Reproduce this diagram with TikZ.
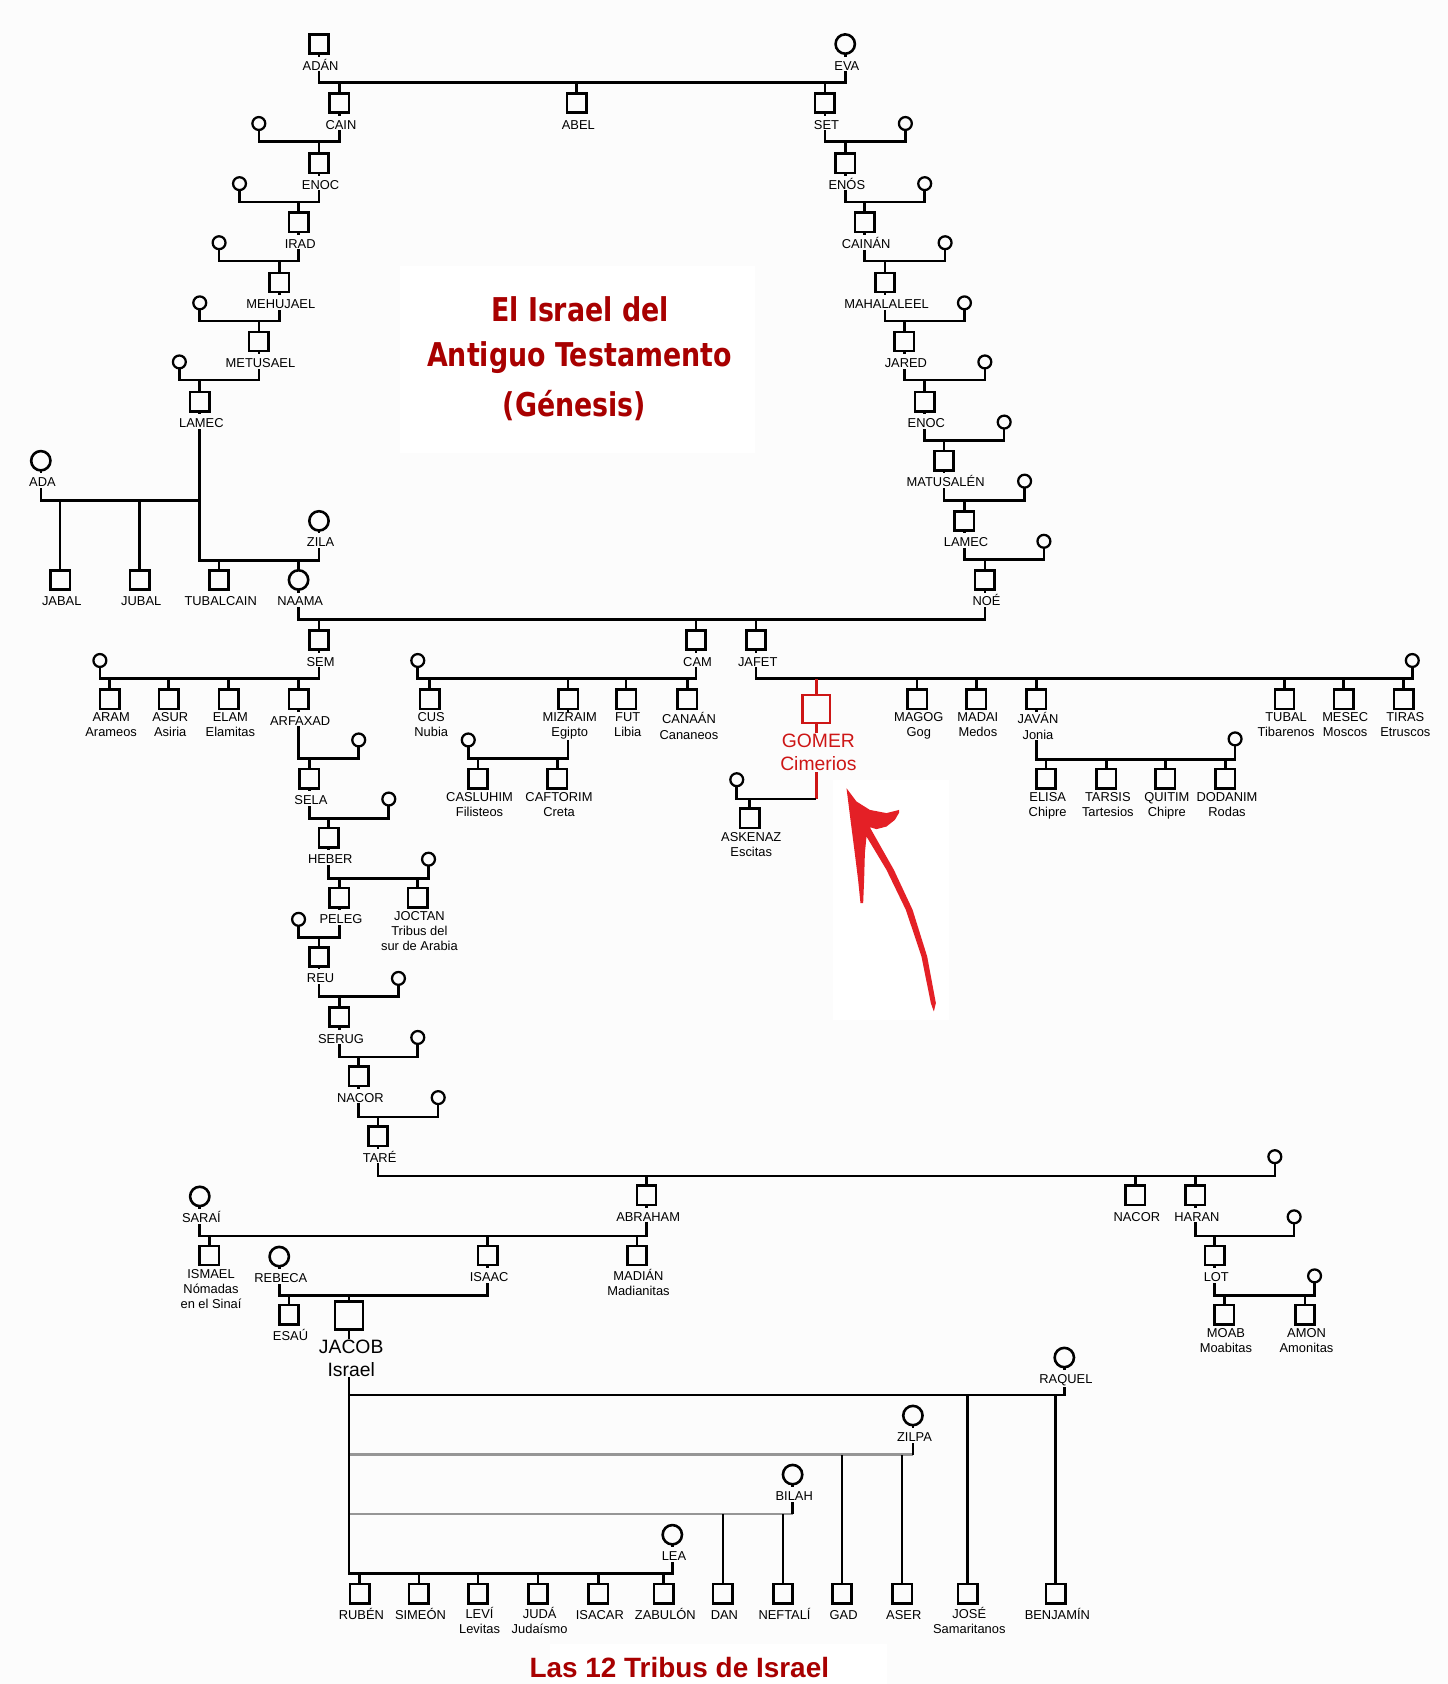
\documentclass[tikz,border=0pt]{standalone}
\usepackage{fontspec}
\setmainfont{Liberation Sans}
\newfontfamily\titlefont{DejaVu Sans Bold}[FakeStretch=0.82]
\usetikzlibrary{calc}
\pgfdeclarelayer{back}
\pgfdeclarelayer{bg}
\pgfsetlayers{back,bg,main}
\definecolor{bgc}{RGB}{252,252,252}
\definecolor{titred}{RGB}{168,0,0}
\definecolor{gomred}{RGB}{205,22,22}
\definecolor{arrred}{RGB}{228,32,38}
\definecolor{barg}{RGB}{150,150,150}
\newcommand\Sq[4]{\node[sq] (#1) at (#2,#3) {};\node[lbl] (#1L) at (#2+1.5,#3+24) {#4};}
\newcommand\Fc[4]{\node[fc] (#1) at (#2,#3) {};\node[lbl] (#1L) at (#2+1.5,#3+24) {#4};}
\newcommand\Wc[3]{\node[wc] (#1) at (#2,#3) {};}
\newcommand\Mar[3]{\draw (#1.center) -- (#1.center |- 0,#3) -| (#2.center);}
\newcommand\Kid[2]{\draw (#1.center) -- (#1.center |- 0,#2);}
\begin{document}
\begin{tikzpicture}[x=1pt,y=-1pt,
  sq/.style={draw, line width=2.4pt, fill=bgc, rectangle, minimum size=18pt, inner sep=0pt},
  fc/.style={draw, line width=2.4pt, fill=bgc, circle, minimum size=18pt, inner sep=0pt},
  wc/.style={draw, line width=2.1pt, fill=bgc, circle, minimum size=12pt, inner sep=0pt},
  lbl/.style={anchor=north, yshift=12.5pt, font=\fontsize{12}{14}\selectfont, align=center, inner sep=1pt, fill=bgc, execute at begin node={\rule{0pt}{11.5pt}}},
  biglbl/.style={anchor=north, yshift=14.5pt, font=\fontsize{18}{21}\selectfont, align=center, inner sep=1pt, fill=bgc, execute at begin node={\rule{0pt}{13.5pt}}},
  ttl/.style={anchor=base, text=titred, inner sep=0pt, font=\titlefont\fontsize{30.5}{36}\selectfont}
]
\useasboundingbox (0,0) rectangle (1348,1568);
\begin{pgfonlayer}{back}
  \fill[bgc] (0,0) rectangle (1348,1568);
  \fill[white] (372,248) rectangle (703,422);
  \fill[white] (776,726) rectangle (884,950);
  \fill[white] (512,1531) rectangle (826,1568);
\end{pgfonlayer}

% title
\node[ttl] (t1) at (540,299.4) {El Israel del};
\node[ttl] (t2) at (539.5,341.3) {Antiguo Testamento};
\node[ttl] (t3) at (535,387.9) {(Génesis)};
\node[anchor=base, text=titred, inner sep=0pt, font=\bfseries\fontsize{26}{28}\selectfont] (tribus) at (632.5,1562) {Las 12 Tribus de Israel};

% top
\Sq{adan}{297}{41}{ADÁN}
\Fc{eva}{787}{41}{EVA}
\Sq{cain}{316}{96}{CAIN}
\Sq{abel}{537}{96}{ABEL}
\Sq{set}{768}{96}{SET}
% Cain line
\Wc{wcain}{241}{115}
\Sq{enocA}{297}{152}{ENOC}
\Wc{wenocA}{223}{171}
\Sq{irad}{278}{207}{IRAD}
\Wc{wirad}{204}{226}
\Sq{mehujael}{260}{263}{MEHUJAEL}
\Wc{wmehujael}{186}{282}
\Sq{metusael}{241}{318}{METUSAEL}
\Wc{wmetusael}{167}{337}
\Sq{lamecA}{186}{374}{LAMEC}
\Fc{ada}{38}{429}{ADA}
\Fc{zila}{297}{485}{ZILA}
\Sq{jabal}{56}{540}{JABAL}
\Sq{jubal}{130}{540}{JUBAL}
\Sq{tubalcain}{204}{540}{TUBALCAIN}
\Fc{naama}{278}{540}{NAAMA}
% Set line
\Wc{wset}{843}{115}
\Sq{enos}{787}{152}{ENÓS}
\Wc{wenos}{861}{171}
\Sq{cainan}{805}{207}{CAINÁN}
\Wc{wcainan}{880}{226}
\Sq{mahalaleel}{824}{263}{MAHALALEEL}
\Wc{wmahalaleel}{898}{282}
\Sq{jared}{842}{318}{JARED}
\Wc{wjared}{917}{337}
\Sq{enocB}{861}{374}{ENOC}
\Wc{wenocB}{935}{393}
\Sq{matusalen}{879}{429}{MATUSALÉN}
\Wc{wmatusalen}{954}{448}
\Sq{lamecB}{898}{485}{LAMEC}
\Wc{wlamecB}{972}{504}
\Sq{noe}{917}{540}{NOÉ}
% sons of Noe
\Sq{sem}{297}{596}{SEM}
\Sq{cam}{648}{596}{CAM}
\Sq{jafet}{704}{596}{JAFET}
\Wc{wsem}{93}{615}
\Sq{aram}{102}{651}{ARAM\\Arameos}
\Sq{asur}{157}{651}{ASUR\\Asiria}
\Sq{elam}{213}{651}{ELAM\\Elamitas}
\Sq{arfaxad}{278}{651}{ARFAXAD}
\Wc{wcam}{389}{615}
\Sq{cus}{400}{651}{CUS\\Nubia}
\Sq{mizraim}{529}{651}{MIZRAIM\\Egipto}
\Sq{fut}{583}{651}{FUT\\Libia}
\Sq{canaan}{640}{651}{CANAÁN\\Cananeos}
\Wc{wmizraim}{436}{689}
\Sq{casluhim}{445}{725}{CASLUHIM\\Filisteos}
\Sq{caftorim}{519}{725}{CAFTORIM\\Creta}
\Wc{wjafet}{1315}{615}
\node[sq, draw=gomred, minimum size=26pt] (gomer) at (760,660) {};
\node[biglbl, text=gomred] (gomerL) at (762,697) {GOMER\\Cimerios};
\Sq{magog}{854}{651}{MAGOG\\Gog}
\Sq{madai}{909}{651}{MADAI\\Medos}
\Sq{javan}{965}{651}{JAVÁN\\Jonia}
\Sq{tubal}{1196}{651}{TUBAL\\Tibarenos}
\Sq{mesec}{1251}{651}{MESEC\\Moscos}
\Sq{tiras}{1307}{651}{TIRAS\\Etruscos}
\Wc{wgomer}{686}{726}
\Sq{askenaz}{698}{762}{ASKENAZ\\Escitas}
\Wc{wjavan}{1150}{688}
\Sq{elisa}{974}{725}{ELISA\\Chipre}
\Sq{tarsis}{1030}{725}{TARSIS\\Tartesios}
\Sq{quitim}{1085}{725}{QUITIM\\Chipre}
\Sq{dodanim}{1141}{725}{DODANIM\\Rodas}
% Arfaxad line
\Wc{warfaxad}{334}{689}
\Sq{sela}{288}{725}{SELA}
\Wc{wsela}{362}{744}
\Sq{heber}{306}{780}{HEBER}
\Wc{wheber}{399}{800}
\Sq{peleg}{316}{836}{PELEG}
\Sq{joctan}{389}{836}{JOCTAN\\Tribus del\\sur de Arabia}
\Wc{wpeleg}{278}{856}
\Sq{reu}{297}{891}{REU}
\Wc{wreu}{371}{911}
\Sq{serug}{316}{947}{SERUG}
\Wc{wserug}{389}{966}
\Sq{nacorA}{334}{1002}{NACOR}
\Wc{wnacorA}{408}{1022}
\Sq{tare}{352}{1058}{TARÉ}
\Wc{wtare}{1187}{1077}
\Sq{abraham}{602}{1113}{ABRAHAM}
\Sq{nacorB}{1057}{1113}{NACOR}
\Sq{haran}{1113}{1113}{HARAN}
\Wc{wharan}{1205}{1133}
\Sq{lot}{1131}{1169}{LOT}
\Wc{wlot}{1224}{1188}
\Sq{moab}{1140}{1224}{MOAB\\Moabitas}
\Sq{amon}{1215}{1224}{AMON\\Amonitas}
\Fc{sarai}{186}{1114}{SARAÍ}
\Sq{ismael}{195}{1169}{ISMAEL\\Nómadas\\en el Sinaí}
\Sq{isaac}{454}{1169}{ISAAC}
\Sq{madian}{593}{1169}{MADIÁN\\Madianitas}
\Fc{rebeca}{260}{1170}{REBECA}
\Sq{esau}{269}{1224}{ESAÚ}
\node[sq, minimum size=26pt] (jacob) at (325,1225) {};
\node[biglbl] (jacobL) at (327,1261) {JACOB\\Israel};
\Fc{raquel}{991}{1264}{RAQUEL}
\Fc{zilpa}{850}{1318}{ZILPA}
\Fc{bilah}{738}{1373}{BILAH}
\Fc{lea}{626}{1429}{LEA}
\Sq{ruben}{335}{1484}{RUBÉN}
\Sq{simeon}{390}{1484}{SIMEÓN}
\Sq{levi}{445}{1484}{LEVÍ\\Levitas}
\Sq{juda}{501}{1484}{JUDÁ\\Judaísmo}
\Sq{isacar}{557}{1484}{ISACAR}
\Sq{zabulon}{618}{1484}{ZABULÓN}
\Sq{dan}{673}{1484}{DAN}
\Sq{neftali}{729}{1484}{NEFTALÍ}
\Sq{gad}{784}{1484}{GAD}
\Sq{aser}{840}{1484}{ASER}
\Sq{jose}{901}{1484}{JOSÉ\\Samaritanos}
\Sq{benjamin}{983}{1484}{BENJAMÍN}

% red arrow
\fill[arrred, line join=round] (788.2,733.9) -- (797.5,746.3) -- (809.9,754.1) -- (825.4,757.1) -- (837.2,754.1)
  -- (837.2,756.6) -- (833.2,763.4) -- (825.4,769.6) -- (816.1,772) -- (809.9,770.2) -- (813,775.8)
  -- (832.3,809.9) -- (849.7,847.1) -- (863.3,890.6) -- (871.4,934) -- (869.5,941.8)
  -- (866.7,934) -- (858,890.6) -- (843.4,847.1) -- (825.4,809.9) -- (806.8,778.9)
  -- (805.3,794.4) -- (804.6,819.2) -- (803.7,840.9) -- (801.2,840.9) -- (799,819.2) -- (795.9,794.4) -- (791.9,763.4) -- cycle;

\begin{pgfonlayer}{bg}
\begin{scope}[line width=2.4pt]
\Mar{adan}{eva}{77}\Kid{cain}{77}\Kid{abel}{77}\Kid{set}{77}
\Mar{cain}{wcain}{132}\Kid{enocA}{132}
\Mar{enocA}{wenocA}{188}\Kid{irad}{188}
\Mar{irad}{wirad}{243}\Kid{mehujael}{243}
\Mar{mehujael}{wmehujael}{299}\Kid{metusael}{299}
\Mar{metusael}{wmetusael}{354}\Kid{lamecA}{354}
\draw (lamecA.center) -- (lamecA.center |- 0,522) -| (zila.center);
\draw (ada.center) -- (ada.center |- 0,466) -- (lamecA.center |- 0,466);
\Kid{jabal}{466}\Kid{jubal}{466}\Kid{tubalcain}{522}\Kid{naama}{522}
\Mar{set}{wset}{132}\Kid{enos}{132}
\Mar{enos}{wenos}{188}\Kid{cainan}{188}
\Mar{cainan}{wcainan}{243}\Kid{mahalaleel}{243}
\Mar{mahalaleel}{wmahalaleel}{299}\Kid{jared}{299}
\Mar{jared}{wjared}{354}\Kid{enocB}{354}
\Mar{enocB}{wenocB}{410}\Kid{matusalen}{410}
\Mar{matusalen}{wmatusalen}{466}\Kid{lamecB}{466}
\Mar{lamecB}{wlamecB}{521}\Kid{noe}{521}
\Mar{noe}{naama}{577}\Kid{sem}{577}\Kid{cam}{577}\Kid{jafet}{577}
\Mar{sem}{wsem}{632}\Kid{aram}{632}\Kid{asur}{632}\Kid{elam}{632}\Kid{arfaxad}{632}
\Mar{cam}{wcam}{632}\Kid{cus}{632}\Kid{mizraim}{632}\Kid{fut}{632}\Kid{canaan}{632}
\Mar{mizraim}{wmizraim}{706}\Kid{casluhim}{706}\Kid{caftorim}{706}
\Mar{jafet}{wjafet}{632}\Kid{magog}{632}\Kid{madai}{632}\Kid{javan}{632}\Kid{tubal}{632}\Kid{mesec}{632}\Kid{tiras}{632}
\draw[gomred] (gomer.center) -- (gomer.center |- 0,632);
\draw[gomred] (gomer.center) -- (gomer.center |- 0,744);
\draw (gomer.center |- 0,744) -| (wgomer.center);
\Kid{askenaz}{744}
\Mar{javan}{wjavan}{707}\Kid{elisa}{707}\Kid{tarsis}{707}\Kid{quitim}{707}\Kid{dodanim}{707}
\Mar{arfaxad}{warfaxad}{706}\Kid{sela}{706}
\Mar{sela}{wsela}{762}\Kid{heber}{762}
\Mar{heber}{wheber}{818}\Kid{peleg}{818}\Kid{joctan}{818}
\Mar{peleg}{wpeleg}{873}\Kid{reu}{873}
\Mar{reu}{wreu}{928}\Kid{serug}{928}
\Mar{serug}{wserug}{984}\Kid{nacorA}{984}
\Mar{nacorA}{wnacorA}{1040}\Kid{tare}{1040}
\Mar{tare}{wtare}{1095}\Kid{abraham}{1095}\Kid{nacorB}{1095}\Kid{haran}{1095}
\Mar{haran}{wharan}{1151}\Kid{lot}{1151}
\Mar{lot}{wlot}{1206}\Kid{moab}{1206}\Kid{amon}{1206}
\Mar{abraham}{sarai}{1151}\Kid{ismael}{1151}\Kid{isaac}{1151}\Kid{madian}{1151}
\Mar{isaac}{rebeca}{1206}\Kid{esau}{1206}\Kid{jacob}{1206}
% Jacob's wives
\draw[barg] (jacob.center |- 0,1354.5) -- (zilpa.center |- 0,1354.5);
\draw[barg] (jacob.center |- 0,1409.5) -- (bilah.center |- 0,1409.5);
\draw (zilpa.center) -- (zilpa.center |- 0,1354.5);
\draw (bilah.center) -- (bilah.center |- 0,1409.5);
\draw (jacob.center) -- (jacob.center |- 0,1465) -| (lea.center);
\draw (jacob.center |- 0,1299) -| (raquel.center);
\Kid{jose}{1299}\Kid{benjamin}{1299}
\Kid{gad}{1354.5}\Kid{aser}{1354.5}
\Kid{dan}{1409.5}\Kid{neftali}{1409.5}
\Kid{ruben}{1465}\Kid{simeon}{1465}\Kid{levi}{1465}\Kid{juda}{1465}\Kid{isacar}{1465}\Kid{zabulon}{1465}
\end{scope}
\end{pgfonlayer}
\end{tikzpicture}
\end{document}
